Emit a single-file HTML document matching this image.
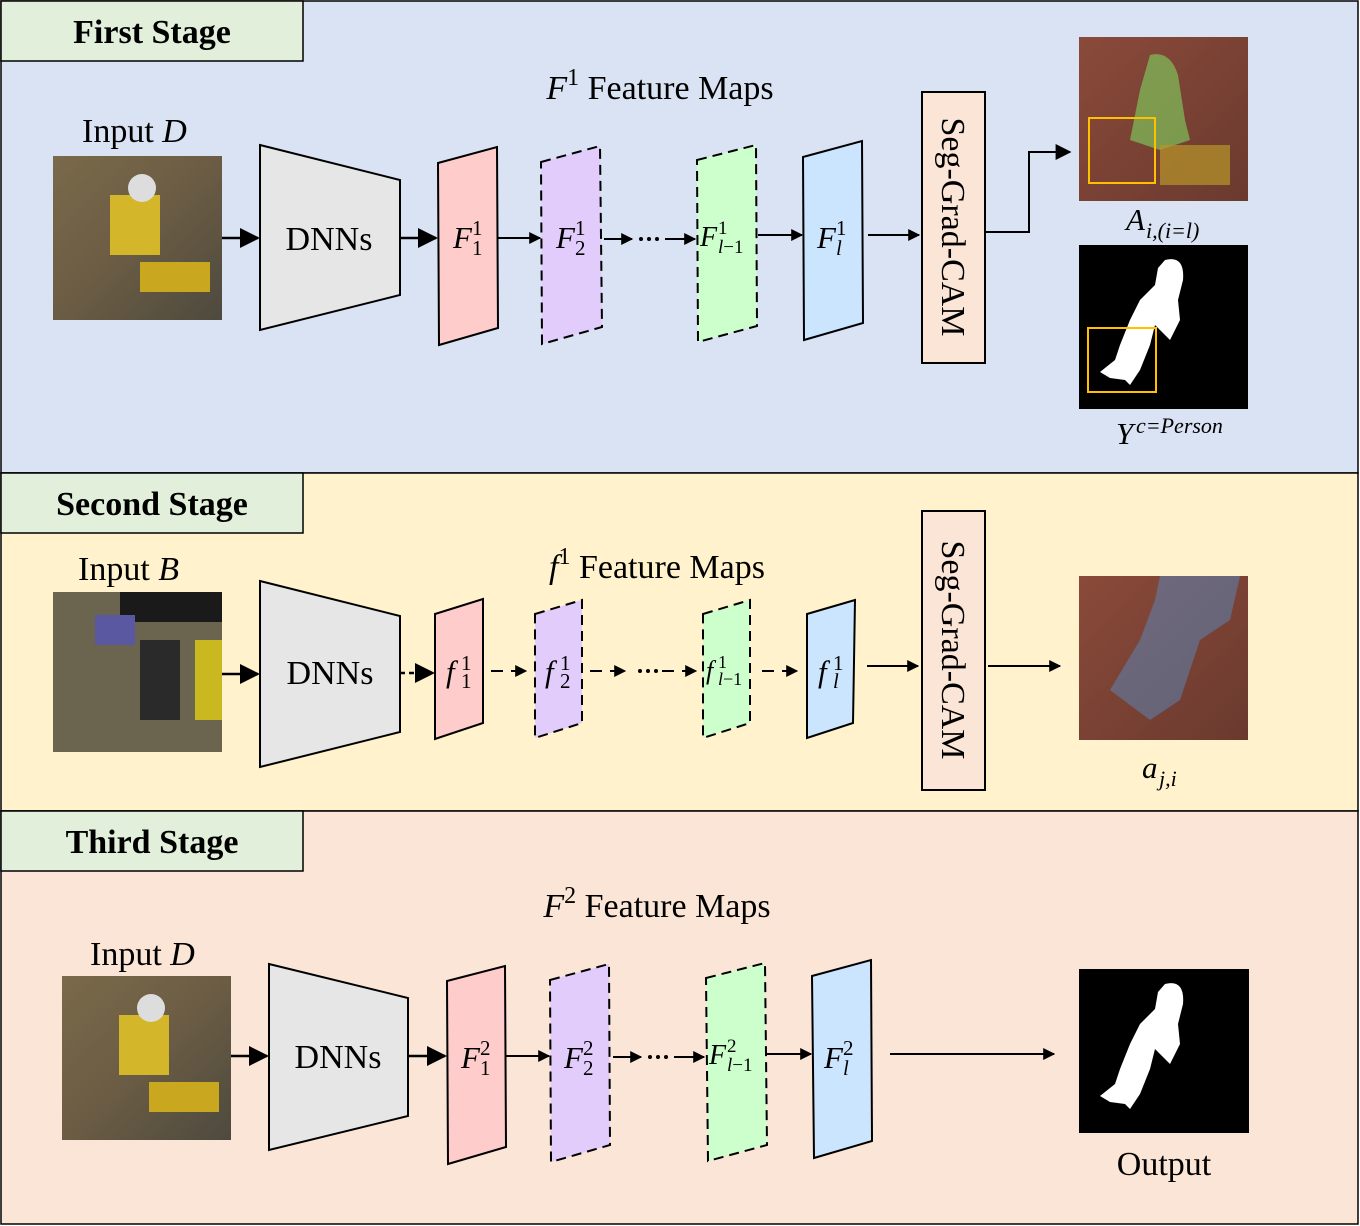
<!DOCTYPE html>
<html><head><meta charset="utf-8"><style>
html,body{margin:0;padding:0;background:#fff}
svg{display:block}
text{font-family:"Liberation Serif",serif;fill:#000}
.it{font-style:italic}
</style></head><body>
<svg width="1360" height="1226" viewBox="0 0 1360 1226" xmlns="http://www.w3.org/2000/svg">
<defs>
<marker id="a" viewBox="0 0 10 10" refX="9" refY="5" markerWidth="6" markerHeight="6" orient="auto"><path d="M0,0L10,5L0,10z"/></marker>
<marker id="b" viewBox="0 0 10 10" refX="9" refY="5" markerWidth="8" markerHeight="8" orient="auto"><path d="M0,0L10,5L0,10z"/></marker>
<linearGradient id="photo" x1="0" y1="0" x2="1" y2="1"><stop offset="0" stop-color="#7a6a4a"/><stop offset="0.5" stop-color="#6b5c44"/><stop offset="1" stop-color="#4d4a3e"/></linearGradient>
<linearGradient id="heat" x1="0" y1="0" x2="1" y2="1"><stop offset="0" stop-color="#8a4a3a"/><stop offset="1" stop-color="#6a3a2e"/></linearGradient>
</defs>
<rect x="1" y="1" width="1357" height="472" fill="#dae3f3" stroke="#000" stroke-width="1.5"/>
<rect x="1" y="473" width="1357" height="338" fill="#fff2cc" stroke="#000" stroke-width="1.5"/>
<rect x="1" y="811" width="1357" height="413" fill="#fbe5d6" stroke="#000" stroke-width="1.5"/>
<rect x="1" y="1" width="302" height="60" fill="#e2efda" stroke="#000" stroke-width="1.5"/>
<rect x="1" y="473" width="302" height="60" fill="#e2efda" stroke="#000" stroke-width="1.5"/>
<rect x="1" y="811" width="302" height="60" fill="#e2efda" stroke="#000" stroke-width="1.5"/>
<text x="152" y="43" font-size="34" font-weight="bold" text-anchor="middle">First Stage</text>
<text x="152" y="515" font-size="34" font-weight="bold" text-anchor="middle">Second Stage</text>
<text x="152" y="853" font-size="34" font-weight="bold" text-anchor="middle">Third Stage</text>

<!-- Stage 1 -->
<text x="82" y="142" font-size="34">Input <tspan class="it">D</tspan></text>
<rect x="53" y="156" width="169" height="164" fill="url(#photo)"/>
<rect x="110" y="195" width="50" height="60" fill="#d4b62a"/><circle cx="142" cy="188" r="14" fill="#ddd"/><rect x="140" y="262" width="70" height="30" fill="#c9a820"/>
<text x="660" y="99" font-size="34" text-anchor="middle"><tspan class="it">F</tspan><tspan font-size="24" dy="-14">1</tspan><tspan dy="14"> Feature Maps</tspan></text>
<path d="M260,145L400,180L400,295L260,330Z" fill="#e6e6e6" stroke="#000" stroke-width="2"/>
<text x="329" y="250" font-size="34" text-anchor="middle">DNNs</text>
<line x1="222" y1="238" x2="258" y2="238" stroke="#000" stroke-width="2.5" marker-end="url(#b)"/>
<line x1="400" y1="238" x2="436" y2="238" stroke="#000" stroke-width="2.5" marker-end="url(#b)"/>
<path d="M438,163L497,147L498,328L439,345Z" fill="#ffcccc" stroke="#000" stroke-width="2"/>
<path d="M541,162L600,146L602,327L542,344Z" fill="#e2ccfb" stroke="#000" stroke-width="2" stroke-dasharray="10,6"/>
<path d="M697,160L756,145L757,326L698,342Z" fill="#ccffcc" stroke="#000" stroke-width="2" stroke-dasharray="10,6"/>
<path d="M803,157L862,141L863,323L804,340Z" fill="#cce5ff" stroke="#000" stroke-width="2"/>
<line x1="497" y1="238" x2="540" y2="238" stroke="#000" stroke-width="2" marker-end="url(#a)"/>
<line x1="604" y1="239" x2="632" y2="239" stroke="#000" stroke-width="2" marker-end="url(#a)"/>
<g fill="#000"><circle cx="641" cy="239" r="2"/><circle cx="649" cy="239" r="2"/><circle cx="657" cy="239" r="2"/></g>
<line x1="665" y1="239" x2="695" y2="239" stroke="#000" stroke-width="2" marker-end="url(#a)"/>
<line x1="758" y1="235" x2="802" y2="235" stroke="#000" stroke-width="2" marker-end="url(#a)"/>
<line x1="868" y1="235" x2="919" y2="235" stroke="#000" stroke-width="2" marker-end="url(#a)"/>
<text x="453" y="248" font-size="31" class="it">F</text><text x="472" y="235" font-size="21">1</text><text x="472" y="255" font-size="21">1</text>
<text x="556" y="248" font-size="31" class="it">F</text><text x="575" y="235" font-size="21">1</text><text x="575" y="255" font-size="21">2</text>
<text x="700" y="246" font-size="28" class="it">F</text><text x="718" y="234" font-size="19">1</text><text x="718" y="253" font-size="19"><tspan class="it">l</tspan>−1</text>
<text x="817" y="248" font-size="31" class="it">F</text><text x="836" y="235" font-size="21">1</text><text x="836" y="255" font-size="21" class="it">l</text>
<rect x="922" y="92" width="63" height="271" fill="#fbe5d6" stroke="#000" stroke-width="2"/>
<text transform="translate(942,227) rotate(90)" font-size="34" text-anchor="middle">Seg-Grad-CAM</text>
<polyline points="985,232 1029,232 1029,152 1070,152" fill="none" stroke="#000" stroke-width="2" marker-end="url(#b)"/>
<rect x="1079" y="37" width="169" height="164" fill="url(#heat)"/>
<path d="M1150,55 Q1170,50 1178,75 L1185,120 L1190,140 L1160,150 L1130,140 L1140,90Z" fill="#7fc05a" opacity="0.7"/>
<rect x="1160" y="145" width="70" height="40" fill="#b8962a" opacity="0.7"/>
<rect x="1089" y="118" width="66" height="65" fill="none" stroke="#ffc000" stroke-width="2"/>
<text x="1126" y="230" font-size="31" class="it">A</text><text x="1146" y="238" font-size="22" class="it">i,(i=l)</text>
<rect x="1079" y="245" width="169" height="164" fill="#000"/>
<path d="M1165,260 Q1185,255 1183,280 L1178,300 L1180,320 L1170,340 L1155,325 L1150,345 L1140,370 L1130,385 L1125,380 L1110,378 L1100,372 L1115,360 L1120,345 L1130,320 L1140,300 L1155,285 L1158,268Z" fill="#fff"/>
<rect x="1088" y="328" width="68" height="64" fill="none" stroke="#ffc000" stroke-width="2"/>
<text x="1116" y="444" font-size="31" class="it">Y</text><text x="1136" y="433" font-size="22" class="it">c=Person</text>

<!-- Stage 2 -->
<text x="78" y="580" font-size="34">Input <tspan class="it">B</tspan></text>
<rect x="53" y="592" width="169" height="160" fill="#6b6550"/>
<rect x="120" y="592" width="102" height="30" fill="#1a1a1a"/><rect x="95" y="615" width="40" height="30" fill="#5a58a0"/><rect x="140" y="640" width="40" height="80" fill="#2a2a2a"/><rect x="195" y="640" width="27" height="80" fill="#c9b820"/>
<text x="657" y="578" font-size="34" text-anchor="middle"><tspan class="it">f</tspan><tspan font-size="24" dy="-14">1</tspan><tspan dy="14"> Feature Maps</tspan></text>
<path d="M260,581L400,616L400,732L260,767Z" fill="#e6e6e6" stroke="#000" stroke-width="2"/>
<text x="330" y="684" font-size="34" text-anchor="middle">DNNs</text>
<line x1="222" y1="674" x2="258" y2="674" stroke="#000" stroke-width="2.5" marker-end="url(#b)"/>
<line x1="400" y1="673" x2="433" y2="673" stroke="#000" stroke-width="2.5" stroke-dasharray="5,4" marker-end="url(#b)"/>
<path d="M435,614L483,599L483,723L435,739Z" fill="#ffcccc" stroke="#000" stroke-width="2"/>
<path d="M535,614L582,600L582,723L535,738Z" fill="#e2ccfb" stroke="#000" stroke-width="2" stroke-dasharray="10,6"/>
<path d="M703,614L750,600L750,723L703,738Z" fill="#ccffcc" stroke="#000" stroke-width="2" stroke-dasharray="10,6"/>
<path d="M807,614L855,600L853,723L807,738Z" fill="#cce5ff" stroke="#000" stroke-width="2"/>
<line x1="491" y1="671" x2="526" y2="671" stroke="#000" stroke-width="2" stroke-dasharray="12,8" marker-end="url(#a)"/>
<line x1="590" y1="671" x2="625" y2="671" stroke="#000" stroke-width="2" stroke-dasharray="12,8" marker-end="url(#a)"/>
<g fill="#000"><circle cx="640" cy="671" r="2"/><circle cx="648" cy="671" r="2"/><circle cx="656" cy="671" r="2"/></g>
<line x1="662" y1="671" x2="696" y2="671" stroke="#000" stroke-width="2" stroke-dasharray="12,8" marker-end="url(#a)"/>
<line x1="762" y1="671" x2="797" y2="671" stroke="#000" stroke-width="2" stroke-dasharray="12,8" marker-end="url(#a)"/>
<line x1="867" y1="666" x2="918" y2="666" stroke="#000" stroke-width="2" marker-end="url(#a)"/>
<text x="446" y="682" font-size="31" class="it">f</text><text x="461" y="670" font-size="21">1</text><text x="461" y="688" font-size="21">1</text>
<text x="545" y="682" font-size="31" class="it">f</text><text x="560" y="670" font-size="21">1</text><text x="560" y="688" font-size="21">2</text>
<text x="706" y="679" font-size="26" class="it">f</text><text x="718" y="668" font-size="18">1</text><text x="718" y="685" font-size="18"><tspan class="it">l</tspan>−1</text>
<text x="818" y="682" font-size="31" class="it">f</text><text x="833" y="670" font-size="21">1</text><text x="833" y="688" font-size="21" class="it">l</text>
<rect x="922" y="511" width="63" height="279" fill="#fbe5d6" stroke="#000" stroke-width="2"/>
<text transform="translate(942,650) rotate(90)" font-size="34" text-anchor="middle">Seg-Grad-CAM</text>
<line x1="988" y1="666" x2="1060" y2="666" stroke="#000" stroke-width="2" marker-end="url(#a)"/>
<rect x="1079" y="576" width="169" height="164" fill="url(#heat)"/>
<path d="M1160,576 L1240,576 L1230,620 L1200,640 L1180,700 L1150,720 L1110,690 L1140,640 L1155,600Z" fill="#5a8ac0" opacity="0.5"/>
<text x="1142" y="778" font-size="31" class="it">a</text><text x="1159" y="786" font-size="22" class="it">j,i</text>

<!-- Stage 3 -->
<text x="90" y="965" font-size="34">Input <tspan class="it">D</tspan></text>
<rect x="62" y="976" width="169" height="164" fill="url(#photo)"/>
<rect x="119" y="1015" width="50" height="60" fill="#d4b62a"/><circle cx="151" cy="1008" r="14" fill="#ddd"/><rect x="149" y="1082" width="70" height="30" fill="#c9a820"/>
<text x="657" y="917" font-size="34" text-anchor="middle"><tspan class="it">F</tspan><tspan font-size="24" dy="-14">2</tspan><tspan dy="14"> Feature Maps</tspan></text>
<path d="M269,964L408,998L408,1116L269,1150Z" fill="#e6e6e6" stroke="#000" stroke-width="2"/>
<text x="338" y="1068" font-size="34" text-anchor="middle">DNNs</text>
<line x1="231" y1="1056" x2="267" y2="1056" stroke="#000" stroke-width="2.5" marker-end="url(#b)"/>
<line x1="408" y1="1056" x2="445" y2="1056" stroke="#000" stroke-width="2.5" marker-end="url(#b)"/>
<path d="M447,981L505,966L506,1147L448,1164Z" fill="#ffcccc" stroke="#000" stroke-width="2"/>
<path d="M550,980L609,964L610,1145L551,1162Z" fill="#e2ccfb" stroke="#000" stroke-width="2" stroke-dasharray="10,6"/>
<path d="M706,978L765,963L767,1145L708,1161Z" fill="#ccffcc" stroke="#000" stroke-width="2" stroke-dasharray="10,6"/>
<path d="M812,976L871,960L872,1141L814,1158Z" fill="#cce5ff" stroke="#000" stroke-width="2"/>
<line x1="506" y1="1056" x2="549" y2="1056" stroke="#000" stroke-width="2" marker-end="url(#a)"/>
<line x1="613" y1="1057" x2="641" y2="1057" stroke="#000" stroke-width="2" marker-end="url(#a)"/>
<g fill="#000"><circle cx="650" cy="1057" r="2"/><circle cx="658" cy="1057" r="2"/><circle cx="666" cy="1057" r="2"/></g>
<line x1="674" y1="1057" x2="704" y2="1057" stroke="#000" stroke-width="2" marker-end="url(#a)"/>
<line x1="767" y1="1054" x2="811" y2="1054" stroke="#000" stroke-width="2" marker-end="url(#a)"/>
<line x1="890" y1="1054" x2="1054" y2="1054" stroke="#000" stroke-width="2" marker-end="url(#a)"/>
<text x="461" y="1068" font-size="31" class="it">F</text><text x="480" y="1055" font-size="21">2</text><text x="480" y="1075" font-size="21">1</text>
<text x="564" y="1068" font-size="31" class="it">F</text><text x="583" y="1055" font-size="21">2</text><text x="583" y="1075" font-size="21">2</text>
<text x="709" y="1064" font-size="28" class="it">F</text><text x="727" y="1052" font-size="19">2</text><text x="727" y="1071" font-size="19"><tspan class="it">l</tspan>−1</text>
<text x="824" y="1068" font-size="31" class="it">F</text><text x="843" y="1055" font-size="21">2</text><text x="843" y="1075" font-size="21" class="it">l</text>
<rect x="1079" y="969" width="170" height="164" fill="#000"/>
<path d="M1165,984 Q1185,979 1183,1004 L1178,1024 L1180,1044 L1170,1064 L1155,1049 L1150,1069 L1140,1094 L1130,1109 L1125,1104 L1110,1102 L1100,1096 L1115,1084 L1120,1069 L1130,1044 L1140,1024 L1155,1009 L1158,992Z" fill="#fff"/>
<text x="1164" y="1175" font-size="34" text-anchor="middle">Output</text>
</svg>
</body></html>
